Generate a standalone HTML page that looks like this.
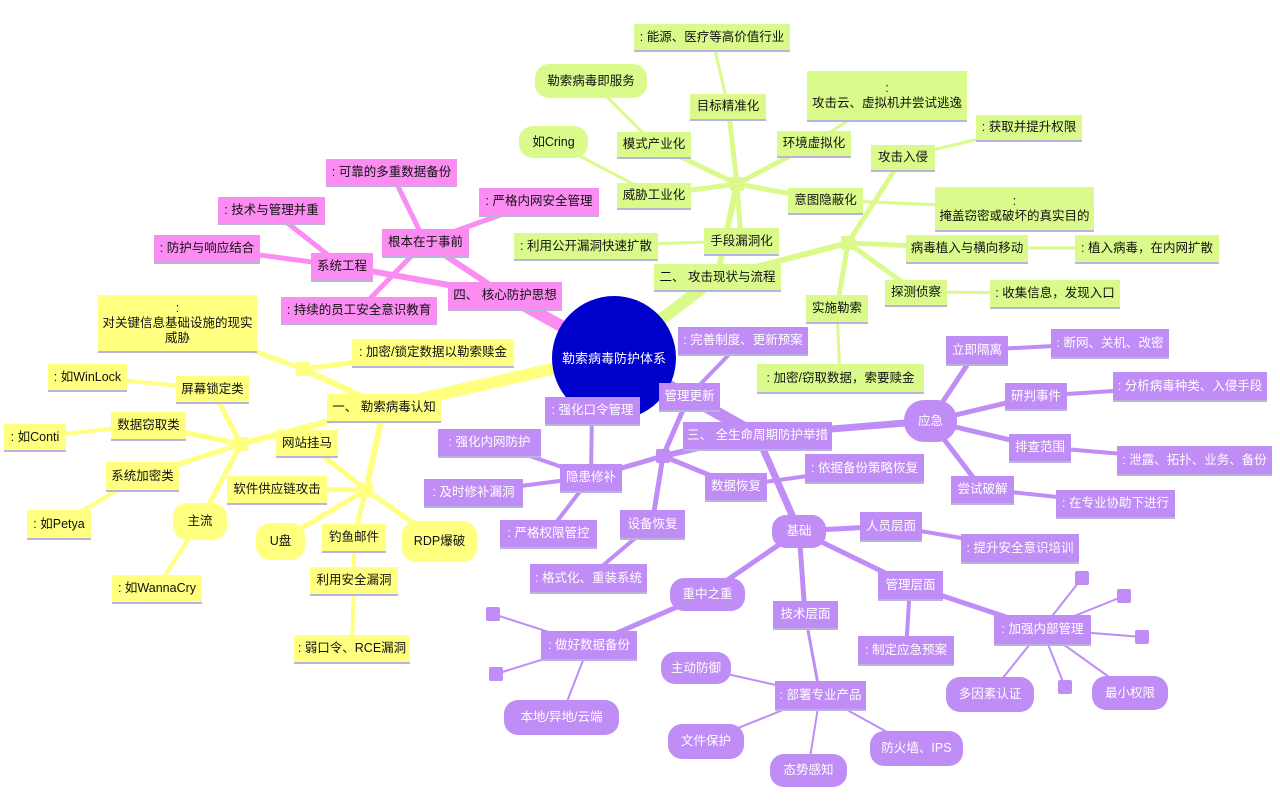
<!DOCTYPE html>
<html><head><meta charset="utf-8"><style>
html,body{margin:0;padding:0;background:#fff;}
#c{position:relative;width:1280px;height:807px;overflow:hidden;font-family:"Liberation Sans","Noto Sans CJK SC",sans-serif;font-size:12.5px;}
svg{position:absolute;left:0;top:0;}
.n{position:absolute;display:flex;align-items:center;justify-content:center;text-align:center;line-height:15px;box-sizing:border-box;white-space:nowrap;box-shadow:0 2px 0 #b9b4dc;}
.g{background:#dafb8c;color:#111;}
.y{background:#ffff80;color:#111;}
.p{background:#fa8cf2;color:#111;}
.v{background:#c08cf5;color:#fff;}
.r{border-radius:14px;box-shadow:none;}
.h{position:absolute;width:14px;height:14px;border-radius:2px;}
</style></head><body><div id="c">
<svg width="1280" height="807" stroke-linecap="round">
<g stroke="#dafb8c" fill="none">
<line x1="614" y1="355" x2="717" y2="277" stroke-width="12"/>
<line x1="717" y1="277" x2="737" y2="184" stroke-width="6"/>
<line x1="717" y1="277" x2="848" y2="243" stroke-width="6"/>
<line x1="737" y1="184" x2="728" y2="106" stroke-width="5"/>
<line x1="737" y1="184" x2="654" y2="144" stroke-width="5"/>
<line x1="737" y1="184" x2="654" y2="195" stroke-width="5"/>
<line x1="737" y1="184" x2="814" y2="143" stroke-width="5"/>
<line x1="737" y1="184" x2="825" y2="200" stroke-width="5"/>
<line x1="737" y1="184" x2="741" y2="241" stroke-width="5"/>
<line x1="848" y1="243" x2="903" y2="157" stroke-width="5"/>
<line x1="848" y1="243" x2="967" y2="248" stroke-width="5"/>
<line x1="848" y1="243" x2="916" y2="292" stroke-width="5"/>
<line x1="848" y1="243" x2="837" y2="308" stroke-width="5"/>
<line x1="825" y1="200" x2="1014" y2="208" stroke-width="3"/>
<line x1="728" y1="106" x2="712" y2="37" stroke-width="3"/>
<line x1="654" y1="144" x2="591" y2="81" stroke-width="3"/>
<line x1="654" y1="195" x2="553" y2="142" stroke-width="3"/>
<line x1="814" y1="143" x2="887" y2="95" stroke-width="3"/>
<line x1="903" y1="157" x2="1029" y2="127" stroke-width="3"/>
<line x1="967" y1="248" x2="1147" y2="248" stroke-width="3"/>
<line x1="916" y1="292" x2="1055" y2="293" stroke-width="3"/>
<line x1="837" y1="308" x2="840" y2="378" stroke-width="3"/>
<line x1="741" y1="241" x2="586" y2="246" stroke-width="3"/>
</g>
<g stroke="#fa8cf2" fill="none">
<line x1="614" y1="355" x2="505" y2="295" stroke-width="12"/>
<line x1="505" y1="295" x2="425" y2="242" stroke-width="6"/>
<line x1="505" y1="295" x2="342" y2="266" stroke-width="6"/>
<line x1="425" y1="242" x2="391" y2="172" stroke-width="5"/>
<line x1="425" y1="242" x2="539" y2="201" stroke-width="5"/>
<line x1="425" y1="242" x2="359" y2="310" stroke-width="5"/>
<line x1="342" y1="266" x2="271" y2="210" stroke-width="5"/>
<line x1="342" y1="266" x2="207" y2="248" stroke-width="5"/>
</g>
<g stroke="#ffff80" fill="none">
<line x1="614" y1="355" x2="384" y2="407" stroke-width="12"/>
<line x1="384" y1="407" x2="303" y2="369" stroke-width="6"/>
<line x1="384" y1="407" x2="241" y2="444" stroke-width="6"/>
<line x1="384" y1="407" x2="366" y2="490" stroke-width="6"/>
<line x1="303" y1="369" x2="177" y2="323" stroke-width="5"/>
<line x1="303" y1="369" x2="433" y2="352" stroke-width="5"/>
<line x1="241" y1="444" x2="212" y2="389" stroke-width="5"/>
<line x1="241" y1="444" x2="148" y2="425" stroke-width="5"/>
<line x1="241" y1="444" x2="142" y2="476" stroke-width="5"/>
<line x1="241" y1="444" x2="200" y2="521" stroke-width="5"/>
<line x1="212" y1="389" x2="87" y2="377" stroke-width="4"/>
<line x1="148" y1="425" x2="35" y2="437" stroke-width="4"/>
<line x1="142" y1="476" x2="59" y2="524" stroke-width="4"/>
<line x1="200" y1="521" x2="157" y2="588" stroke-width="4"/>
<line x1="366" y1="490" x2="307" y2="443" stroke-width="5"/>
<line x1="366" y1="490" x2="277" y2="489" stroke-width="5"/>
<line x1="366" y1="490" x2="280" y2="541" stroke-width="5"/>
<line x1="366" y1="490" x2="354" y2="537" stroke-width="5"/>
<line x1="366" y1="490" x2="439" y2="541" stroke-width="5"/>
<line x1="354" y1="537" x2="354" y2="580" stroke-width="4"/>
<line x1="354" y1="580" x2="352" y2="648" stroke-width="4"/>
</g>
<g stroke="#c08cf5" fill="none">
<line x1="614" y1="355" x2="757" y2="435" stroke-width="12"/>
<line x1="689" y1="396" x2="743" y2="340" stroke-width="4"/>
<line x1="757" y1="435" x2="663" y2="456" stroke-width="6"/>
<line x1="663" y1="456" x2="591" y2="477" stroke-width="5"/>
<line x1="663" y1="456" x2="736" y2="486" stroke-width="5"/>
<line x1="663" y1="456" x2="652" y2="524" stroke-width="5"/>
<line x1="663" y1="456" x2="689" y2="396" stroke-width="5"/>
<line x1="591" y1="477" x2="592" y2="410" stroke-width="4"/>
<line x1="591" y1="477" x2="489" y2="442" stroke-width="4"/>
<line x1="591" y1="477" x2="473" y2="492" stroke-width="4"/>
<line x1="591" y1="477" x2="548" y2="533" stroke-width="4"/>
<line x1="736" y1="486" x2="864" y2="468" stroke-width="4"/>
<line x1="652" y1="524" x2="588" y2="578" stroke-width="4"/>
<line x1="757" y1="435" x2="930" y2="421" stroke-width="7"/>
<line x1="757" y1="435" x2="799" y2="531" stroke-width="7"/>
<line x1="930" y1="421" x2="977" y2="350" stroke-width="5"/>
<line x1="930" y1="421" x2="1036" y2="396" stroke-width="5"/>
<line x1="930" y1="421" x2="1040" y2="447" stroke-width="5"/>
<line x1="930" y1="421" x2="982" y2="489" stroke-width="5"/>
<line x1="977" y1="350" x2="1110" y2="343" stroke-width="4"/>
<line x1="1036" y1="396" x2="1190" y2="386" stroke-width="4"/>
<line x1="1040" y1="447" x2="1194" y2="460" stroke-width="4"/>
<line x1="982" y1="489" x2="1115" y2="503" stroke-width="4"/>
<line x1="799" y1="531" x2="891" y2="526" stroke-width="5"/>
<line x1="799" y1="531" x2="910" y2="585" stroke-width="5"/>
<line x1="799" y1="531" x2="805" y2="614" stroke-width="5"/>
<line x1="799" y1="531" x2="707" y2="594" stroke-width="5"/>
<line x1="891" y1="526" x2="1020" y2="548" stroke-width="4"/>
<line x1="910" y1="585" x2="906" y2="650" stroke-width="4"/>
<line x1="910" y1="585" x2="1042" y2="629" stroke-width="5"/>
<line x1="1042" y1="629" x2="990" y2="694" stroke-width="2"/>
<line x1="1042" y1="629" x2="1130" y2="692" stroke-width="2"/>
<line x1="1042" y1="629" x2="1082" y2="578" stroke-width="2"/>
<line x1="1042" y1="629" x2="1124" y2="596" stroke-width="2"/>
<line x1="1042" y1="629" x2="1142" y2="637" stroke-width="2"/>
<line x1="1042" y1="629" x2="1065" y2="687" stroke-width="2"/>
<line x1="805" y1="614" x2="820" y2="695" stroke-width="3"/>
<line x1="820" y1="695" x2="696" y2="667" stroke-width="2"/>
<line x1="820" y1="695" x2="706" y2="741" stroke-width="2"/>
<line x1="820" y1="695" x2="808" y2="770" stroke-width="2"/>
<line x1="820" y1="695" x2="916" y2="748" stroke-width="2"/>
<line x1="707" y1="594" x2="589" y2="645" stroke-width="5"/>
<line x1="589" y1="645" x2="493" y2="614" stroke-width="2"/>
<line x1="589" y1="645" x2="496" y2="674" stroke-width="2"/>
<line x1="589" y1="645" x2="561" y2="717" stroke-width="2"/>
</g>
<circle cx="614" cy="358" r="62" fill="#0000cc"/>
<text x="614" y="363" fill="#fff" font-size="13" text-anchor="middle" font-family="Liberation Sans, Noto Sans CJK SC, sans-serif">勒索病毒防护体系</text>
</svg>

<!-- green -->
<div class="n g" style="left:634px;top:24px;width:156px;height:26px">: 能源、医疗等高价值行业</div>
<div class="n g r" style="left:535px;top:64px;width:112px;height:34px">勒索病毒即服务</div>
<div class="n g" style="left:690px;top:94px;width:76px;height:25px">目标精准化</div>
<div class="n g" style="left:807px;top:71px;width:160px;height:49px;flex-direction:column">:<br>攻击云、虚拟机并尝试逃逸</div>
<div class="n g r" style="left:519px;top:126px;width:69px;height:32px">如Cring</div>
<div class="n g" style="left:617px;top:132px;width:74px;height:25px">模式产业化</div>
<div class="n g" style="left:777px;top:131px;width:74px;height:25px">环境虚拟化</div>
<div class="n g" style="left:871px;top:145px;width:64px;height:25px">攻击入侵</div>
<div class="n g" style="left:976px;top:115px;width:106px;height:25px">: 获取并提升权限</div>
<div class="n g" style="left:617px;top:183px;width:74px;height:25px">威胁工业化</div>
<div class="n g" style="left:788px;top:188px;width:75px;height:25px">意图隐蔽化</div>
<div class="n g" style="left:935px;top:187px;width:159px;height:43px;flex-direction:column">:<br>掩盖窃密或破坏的真实目的</div>
<div class="n g" style="left:704px;top:228px;width:75px;height:26px">手段漏洞化</div>
<div class="n g" style="left:514px;top:233px;width:144px;height:26px">: 利用公开漏洞快速扩散</div>
<div class="n g" style="left:654px;top:264px;width:127px;height:26px">二、 攻击现状与流程</div>
<div class="h g" style="left:730px;top:177px"></div>
<div class="h g" style="left:841px;top:236px"></div>
<div class="n g" style="left:906px;top:235px;width:122px;height:27px">病毒植入与横向移动</div>
<div class="n g" style="left:1075px;top:235px;width:144px;height:27px">: 植入病毒，在内网扩散</div>
<div class="n g" style="left:885px;top:280px;width:62px;height:25px">探测侦察</div>
<div class="n g" style="left:990px;top:280px;width:130px;height:27px">: 收集信息，发现入口</div>
<div class="n g" style="left:806px;top:295px;width:62px;height:27px">实施勒索</div>
<div class="n g" style="left:757px;top:364px;width:167px;height:28px">: 加密/窃取数据，索要赎金</div>

<!-- pink -->
<div class="n p" style="left:326px;top:159px;width:131px;height:26px">: 可靠的多重数据备份</div>
<div class="n p" style="left:218px;top:197px;width:107px;height:26px">: 技术与管理并重</div>
<div class="n p" style="left:479px;top:188px;width:120px;height:27px">: 严格内网安全管理</div>
<div class="n p" style="left:382px;top:229px;width:87px;height:27px">根本在于事前</div>
<div class="n p" style="left:154px;top:235px;width:106px;height:27px">: 防护与响应结合</div>
<div class="n p" style="left:311px;top:253px;width:62px;height:27px">系统工程</div>
<div class="n p" style="left:448px;top:282px;width:114px;height:27px">四、 核心防护思想</div>
<div class="n p" style="left:281px;top:297px;width:156px;height:26px">: 持续的员工安全意识教育</div>

<!-- yellow -->
<div class="n y" style="left:98px;top:295px;width:159px;height:56px;flex-direction:column">:<br>对关键信息基础设施的现实<br>威胁</div>
<div class="n y" style="left:352px;top:339px;width:162px;height:27px">: 加密/锁定数据以勒索赎金</div>
<div class="h y" style="left:296px;top:362px"></div>
<div class="n y" style="left:48px;top:364px;width:79px;height:26px">: 如WinLock</div>
<div class="n y" style="left:176px;top:376px;width:73px;height:26px">屏幕锁定类</div>
<div class="n y" style="left:327px;top:394px;width:114px;height:27px">一、 勒索病毒认知</div>
<div class="n y" style="left:111px;top:412px;width:75px;height:27px">数据窃取类</div>
<div class="n y" style="left:4px;top:424px;width:62px;height:26px">: 如Conti</div>
<div class="h y" style="left:234px;top:437px"></div>
<div class="n y" style="left:276px;top:430px;width:62px;height:26px">网站挂马</div>
<div class="n y" style="left:106px;top:462px;width:73px;height:28px">系统加密类</div>
<div class="n y" style="left:227px;top:476px;width:100px;height:27px">软件供应链攻击</div>
<div class="h y" style="left:359px;top:483px"></div>
<div class="n y" style="left:27px;top:510px;width:64px;height:28px">: 如Petya</div>
<div class="n y r" style="left:173px;top:503px;width:54px;height:37px">主流</div>
<div class="n y r" style="left:256px;top:523px;width:49px;height:37px">U盘</div>
<div class="n y" style="left:322px;top:524px;width:64px;height:27px">钓鱼邮件</div>
<div class="n y r" style="left:402px;top:521px;width:75px;height:41px">RDP爆破</div>
<div class="n y" style="left:310px;top:567px;width:88px;height:27px">利用安全漏洞</div>
<div class="n y" style="left:112px;top:575px;width:90px;height:27px">: 如WannaCry</div>
<div class="n y" style="left:294px;top:635px;width:116px;height:27px">: 弱口令、RCE漏洞</div>

<!-- purple -->
<div class="n v" style="left:678px;top:327px;width:130px;height:27px">: 完善制度、更新预案</div>
<div class="n v" style="left:659px;top:383px;width:61px;height:27px">管理更新</div>
<div class="n v" style="left:545px;top:397px;width:95px;height:27px">: 强化口令管理</div>
<div class="n v" style="left:683px;top:422px;width:149px;height:27px">三、 全生命周期防护举措</div>
<div class="n v" style="left:438px;top:429px;width:103px;height:27px">: 强化内网防护</div>
<div class="h v" style="left:656px;top:449px"></div>
<div class="n v" style="left:560px;top:464px;width:62px;height:27px">隐患修补</div>
<div class="n v" style="left:705px;top:473px;width:62px;height:27px">数据恢复</div>
<div class="n v" style="left:805px;top:454px;width:119px;height:28px">: 依据备份策略恢复</div>
<div class="n v" style="left:424px;top:479px;width:99px;height:27px">: 及时修补漏洞</div>
<div class="n v" style="left:620px;top:510px;width:65px;height:28px">设备恢复</div>
<div class="n v" style="left:500px;top:520px;width:97px;height:27px">: 严格权限管控</div>
<div class="n v" style="left:530px;top:564px;width:117px;height:28px">: 格式化、重装系统</div>
<div class="n v" style="left:946px;top:336px;width:62px;height:28px">立即隔离</div>
<div class="n v" style="left:1051px;top:329px;width:118px;height:28px">: 断网、关机、改密</div>
<div class="n v r" style="left:904px;top:400px;width:53px;height:42px;border-radius:20px">应急</div>
<div class="n v" style="left:1005px;top:383px;width:62px;height:26px">研判事件</div>
<div class="n v" style="left:1113px;top:372px;width:154px;height:28px">: 分析病毒种类、入侵手段</div>
<div class="n v" style="left:1009px;top:434px;width:62px;height:27px">排查范围</div>
<div class="n v" style="left:1117px;top:446px;width:155px;height:28px">: 泄露、拓扑、业务、备份</div>
<div class="n v" style="left:951px;top:476px;width:63px;height:27px">尝试破解</div>
<div class="n v" style="left:1056px;top:490px;width:119px;height:27px">: 在专业协助下进行</div>
<div class="n v r" style="left:772px;top:515px;width:54px;height:33px">基础</div>
<div class="n v" style="left:860px;top:512px;width:62px;height:28px">人员层面</div>
<div class="n v" style="left:961px;top:534px;width:118px;height:28px">: 提升安全意识培训</div>
<div class="n v r" style="left:670px;top:578px;width:75px;height:33px">重中之重</div>
<div class="n v" style="left:878px;top:571px;width:65px;height:28px">管理层面</div>
<div class="n v" style="left:773px;top:601px;width:65px;height:27px">技术层面</div>
<div class="n v" style="left:541px;top:631px;width:96px;height:28px">: 做好数据备份</div>
<div class="n v" style="left:858px;top:636px;width:96px;height:28px">: 制定应急预案</div>
<div class="n v" style="left:994px;top:615px;width:97px;height:29px">: 加强内部管理</div>
<div class="h v" style="left:1075px;top:571px"></div>
<div class="h v" style="left:1117px;top:589px"></div>
<div class="h v" style="left:1135px;top:630px"></div>
<div class="h v" style="left:1058px;top:680px"></div>
<div class="h v" style="left:486px;top:607px"></div>
<div class="h v" style="left:489px;top:667px"></div>
<div class="n v r" style="left:661px;top:652px;width:70px;height:32px">主动防御</div>
<div class="n v" style="left:775px;top:681px;width:91px;height:28px">: 部署专业产品</div>
<div class="n v r" style="left:946px;top:677px;width:88px;height:35px">多因素认证</div>
<div class="n v r" style="left:1092px;top:676px;width:76px;height:34px">最小权限</div>
<div class="n v r" style="left:504px;top:700px;width:115px;height:35px">本地/异地/云端</div>
<div class="n v r" style="left:668px;top:724px;width:76px;height:35px">文件保护</div>
<div class="n v r" style="left:770px;top:754px;width:77px;height:33px">态势感知</div>
<div class="n v r" style="left:870px;top:731px;width:93px;height:35px">防火墙、IPS</div>
</div></body></html>
